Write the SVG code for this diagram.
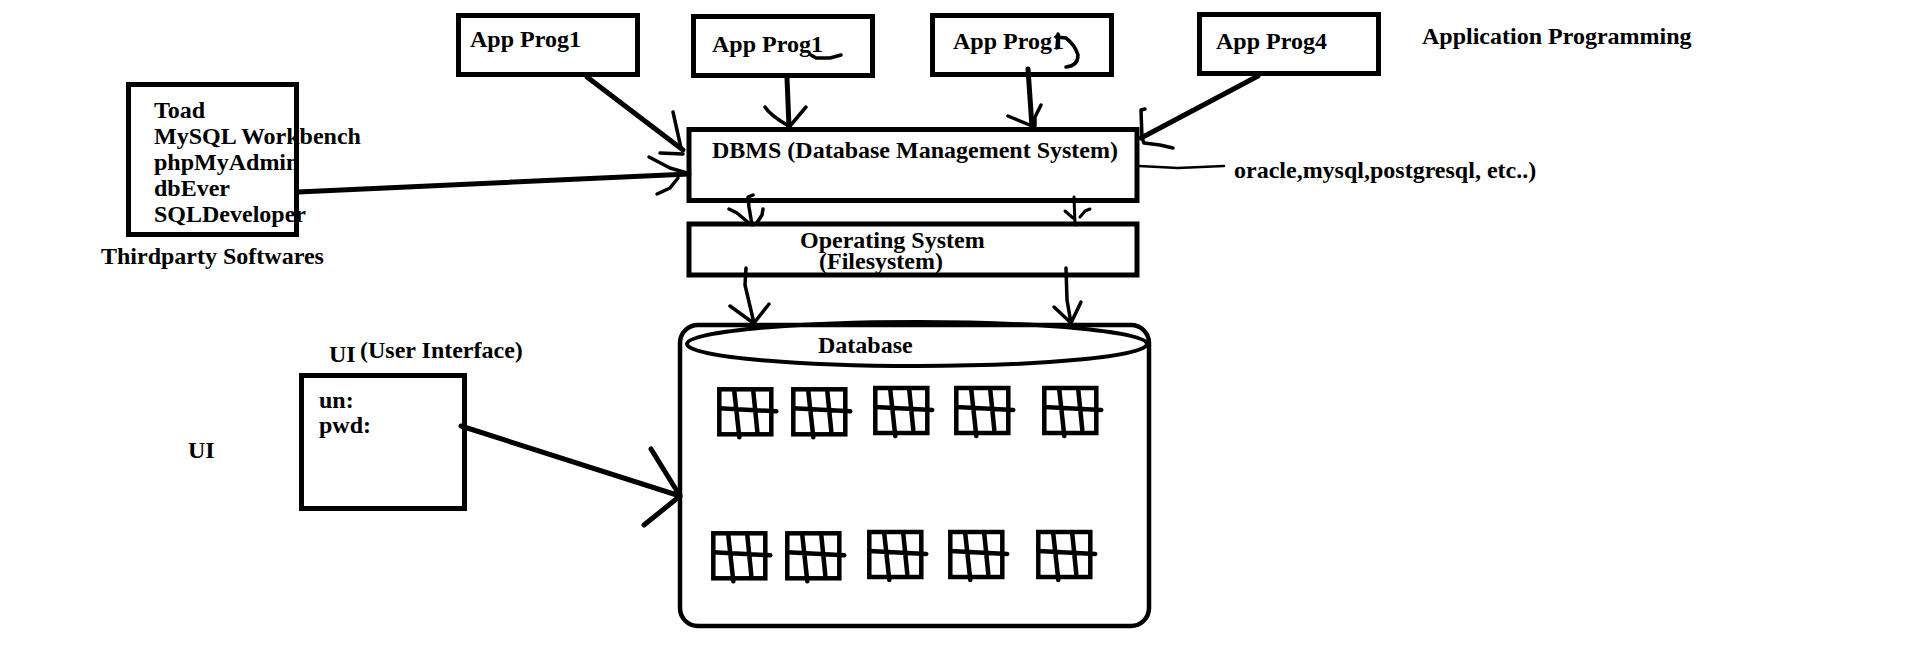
<svg xmlns="http://www.w3.org/2000/svg" width="1914" height="662" viewBox="0 0 1914 662">
<style>
text{font-family:"Liberation Serif","Times New Roman",serif;font-weight:700;font-size:24px;fill:#000}
.b{fill:none;stroke:#000;stroke-width:5}
.c{fill:none;stroke:#000;stroke-width:5;stroke-linecap:round;stroke-linejoin:round}
.h{fill:none;stroke:#000;stroke-width:3.500;stroke-linecap:round;stroke-linejoin:round}
.t{fill:none;stroke:#000;stroke-width:4.500;stroke-linecap:round}
</style>
<defs>
<g id="tbl">
<rect class="t" x="2" y="2" width="52" height="45" stroke-linecap="butt"/>
<path class="t" d="M2 21L59 24M17 4L22 50M36 4L40 44"/>
</g>
</defs>
<rect width="1914" height="662" fill="#fff"/>
<g id="app1"><rect class="b" x="458.500" y="15.500" width="179" height="59"/><text x="470" y="47">App Prog1</text></g>
<g id="app2"><rect class="b" x="693.500" y="16.500" width="179" height="59"/><text x="712" y="52">App Prog1</text><path class="h" d="M811 55L816 58L830 58L841 55"/></g>
<g id="app3"><rect class="b" x="932.500" y="15.500" width="179" height="59"/><text x="953" y="49">App Prog1</text><path class="h" d="M1058 34L1057 48M1056 37L1066 38Q1075 45 1078 55Q1078 66 1066 67"/></g>
<g id="app4"><rect class="b" x="1199.500" y="14.500" width="179" height="59"/><text x="1216" y="49">App Prog4</text></g>
<text id="label-application" x="1422" y="44">Application Programming</text>
<g id="dbms"><rect class="b" x="689" y="129.500" width="448" height="71"/><text x="712" y="158">DBMS (Database Management System)</text></g>
<text id="label-oracle" x="1234" y="178">oracle,mysql,postgresql, etc..)</text>
<g id="os"><rect class="b" x="689" y="224" width="448" height="51"/><text x="800" y="248">Operating System</text><text x="819" y="269">(Filesystem)</text></g>
<g id="thirdparty"><rect class="b" x="128.500" y="84.500" width="168" height="150"/>
<text x="154" y="118">Toad</text><text x="154" y="144">MySQL Workbench</text><text x="154" y="170">phpMyAdmin</text><text x="154" y="196">dbEver</text><text x="154" y="222">SQLDeveloper</text></g>
<text id="label-thirdparty" x="101" y="264">Thirdparty Softwares</text>
<g id="ui"><rect class="b" x="301.500" y="375.500" width="163" height="133"/><text x="319" y="408">un:</text><text x="319" y="433">pwd:</text></g>
<text id="label-ui-title" x="329" y="362">UI</text>
<text id="label-ui-sub" x="360" y="358">(User Interface)</text>
<text id="label-ui" x="188" y="458">UI</text>
<g id="database">
<rect x="680" y="325" width="469" height="301" rx="18" fill="none" stroke="#000" stroke-width="4.500"/>
<ellipse cx="917" cy="344" rx="230" ry="22" fill="none" stroke="#000" stroke-width="4"/>
<path d="M830 325Q917 318 1005 325Z" fill="#000"/>
<text x="818" y="353">Database</text>
<use href="#tbl" x="717.300" y="387.300"/><use href="#tbl" x="791.300" y="387.300"/><use href="#tbl" x="873.300" y="386"/><use href="#tbl" x="954.300" y="386"/><use href="#tbl" x="1042.300" y="386"/>
<use href="#tbl" x="711.300" y="531.300"/><use href="#tbl" x="785.300" y="531.300"/><use href="#tbl" x="867.300" y="530"/><use href="#tbl" x="948.300" y="530"/><use href="#tbl" x="1036.300" y="530"/>
</g>
<g id="connectors">
<path class="c" d="M587 77L683 150"/><path class="h" d="M673 112L681 148M660 153L683 154"/>
<path class="c" d="M787 78L789 127"/><path class="h" d="M765 107Q770 115 787 125M806 107L790 126"/>
<path class="c" d="M1028 69L1032 127"/><path class="h" d="M1008 116L1032 126M1041 105L1035 117L1035 126"/>
<path class="c" d="M1258 76L1141 138"/><path class="h" d="M1145 109L1141 110L1142 138L1144 143L1160 145L1173 148"/>
<path d="M1139 166L1178 168L1224 166" fill="none" stroke="#000" stroke-width="2.500" stroke-linecap="round"/>
<path class="c" d="M298 192L689 174"/><path class="h" d="M649 157L670 168L687 173M657 194L670 188L678 178"/>
<path class="h" d="M753 195L748 197L749 207L752 225M729 209L737 213L750 224M763 209L762 215L756 224"/>
<path class="h" style="stroke-width:3" d="M1074 197L1075 225M1065 211L1073 218M1090 209L1085 211L1080 217"/>
<path class="h" d="M746 268L745 285L754 323M730 306L752 322M769 304L754 323"/>
<path class="h" d="M1066 268L1067 300L1071 323M1054 307L1070 322M1081 302L1071 323"/>
<path class="c" d="M461 426L680 496M651 449L680 496M644 525L680 496"/>
</g>
</svg>
